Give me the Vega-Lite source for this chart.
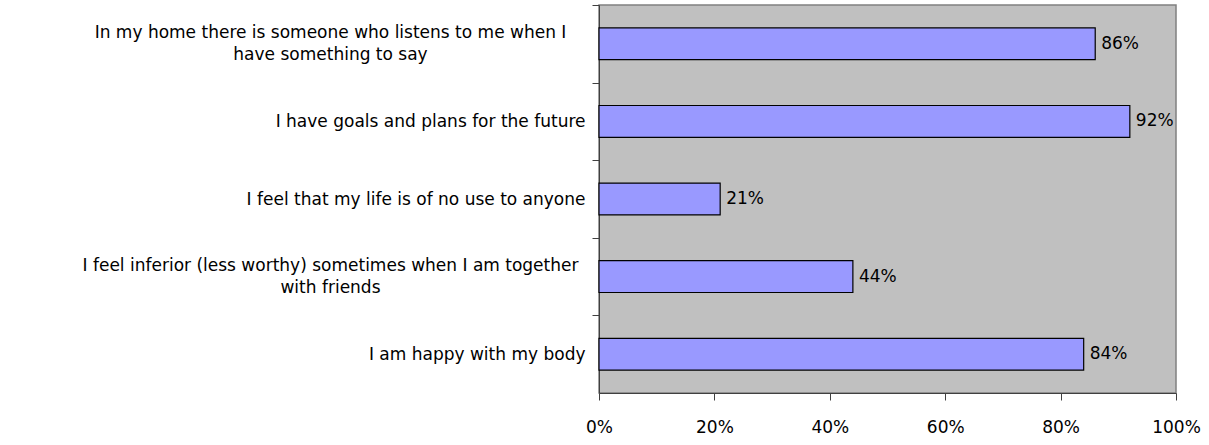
{
  "$schema": "https://vega.github.io/schema/vega-lite/v6.json",
  "width": 577,
  "height": 388,
  "autosize": "none",
  "padding": {"left": 599, "top": 5, "right": 33, "bottom": 52},
  "background": "white",
  "config": {
    "view": {"fill": "#C0C0C0", "stroke": "#808080", "strokeWidth": 1.5},
    "font": "DejaVu Sans"
  },
  "data": {
    "values": [
      {"statement": "In my home there is someone who listens to me when I|have something to say", "pct": 0.86},
      {"statement": "I have goals and plans for the future", "pct": 0.92},
      {"statement": "I feel that my life is of no use to anyone", "pct": 0.21},
      {"statement": "I feel inferior (less worthy) sometimes when I am together|with friends", "pct": 0.44},
      {"statement": "I am happy with my body", "pct": 0.84}
    ]
  },
  "encoding": {
    "y": {
      "field": "statement",
      "type": "nominal",
      "sort": null,
      "scale": {"paddingInner": 0.59, "paddingOuter": 0.295},
      "axis": {
        "title": null,
        "labelExpr": "split(datum.value, '|')",
        "labelFontSize": 17,
        "labelColor": "black",
        "labelLineHeight": 22,
        "labelLimit": 700,
        "tickSize": 7,
        "tickOffset": -38.8,
        "tickColor": "#404040",
        "domainColor": "#404040",
        "labelAlign": {"condition": {"test": "indexof(datum.value, '|') >= 0", "value": "center"}, "value": "right"},
        "labelPadding": {"condition": {"test": "indexof(datum.value, '|') >= 0", "value": 262}, "value": 7},
        "labelOffset": {"condition": {"test": "indexof(datum.value, '|') >= 0", "value": 27.8}, "value": 38.8}
      }
    },
    "x": {
      "field": "pct",
      "type": "quantitative",
      "scale": {"domain": [0, 1]},
      "axis": {
        "title": null,
        "format": ".0%",
        "values": [0, 0.2, 0.4, 0.6, 0.8, 1],
        "grid": false,
        "tickSize": 7,
        "tickColor": "#404040",
        "domainColor": "#404040",
        "labelFontSize": 17,
        "labelColor": "black",
        "labelPadding": 19,
        "labelFlush": false
      }
    }
  },
  "layer": [
    {"mark": {"type": "bar", "fill": "#9999FF", "stroke": "black", "strokeWidth": 1.2}},
    {
      "mark": {"type": "text", "align": "left", "dx": 6, "fontSize": 17, "color": "black"},
      "encoding": {"text": {"field": "pct", "type": "quantitative", "format": ".0%"}}
    }
  ]
}
